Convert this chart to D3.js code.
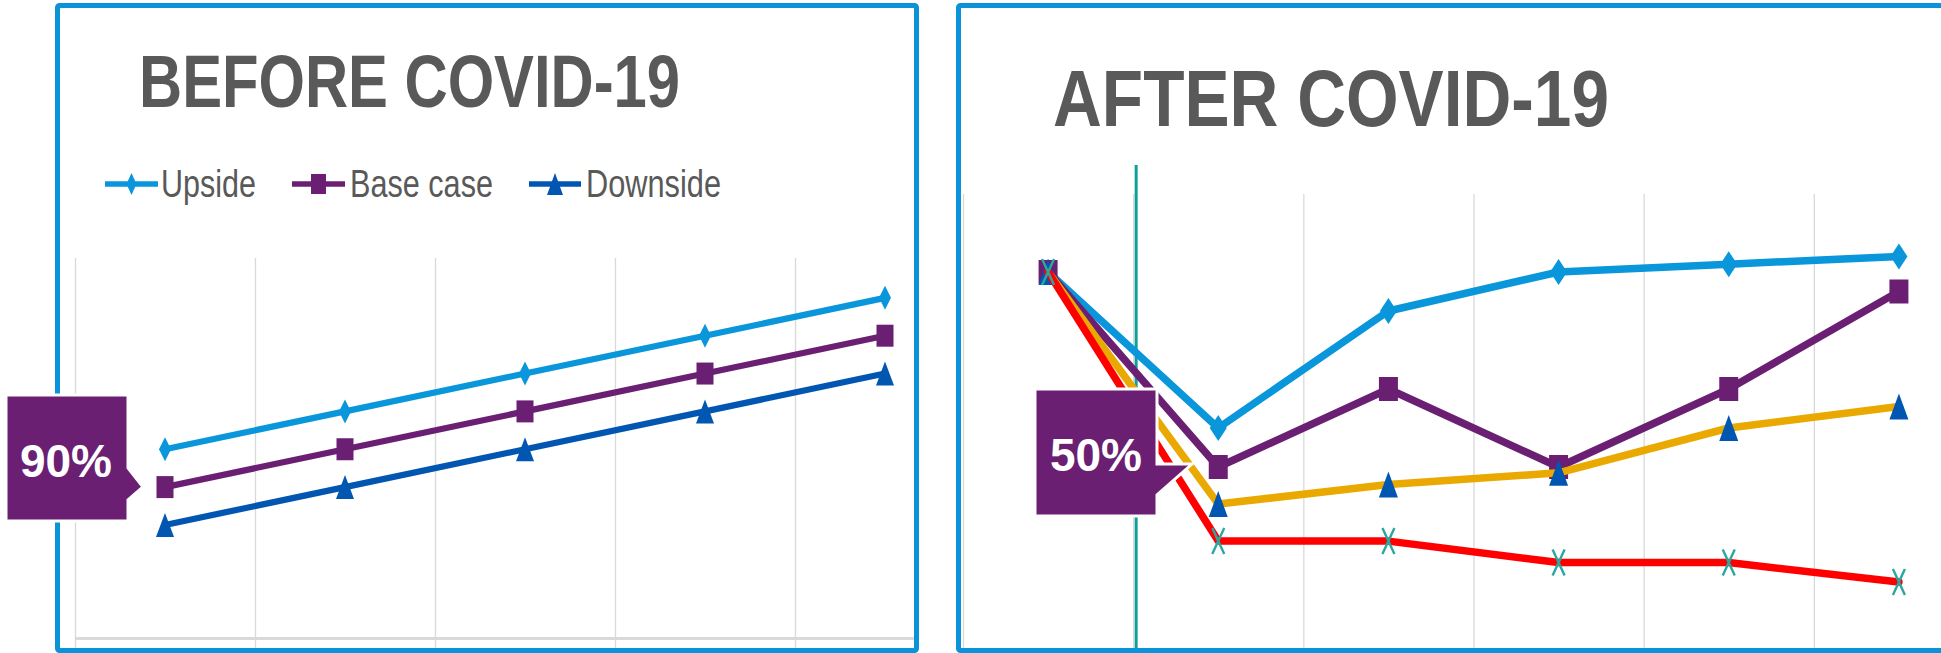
<!DOCTYPE html>
<html>
<head>
<meta charset="utf-8">
<script src="https://cdn.jsdelivr.net/npm/d3@7/dist/d3.min.js"></script>
<style>
  html, body { margin: 0; padding: 0; background: #ffffff; }
  svg { display: block; }
</style>
</head>
<body>
<svg id="chart" width="1941" height="653"></svg>
<script>
// ---------------- DATA ----------------
const titles = ["BEFORE COVID-19", "AFTER COVID-19"];
const legendLabels = ["Upside", "Base case", "Downside"];
const callouts = ["90%", "50%"];

const beforeCategories = ["P1", "P2", "P3", "P4", "P5"];
const beforeUpside   = [5, 6, 7, 8, 9];
const beforeBase     = [4, 5, 6, 7, 8];
const beforeDownside = [3, 4, 5, 6, 7];

const afterCategories = ["P0", "P1", "P2", "P3", "P4", "P5"];
const afterUpside   = [10, 6, 9, 10, 10.2, 10.4];
const afterBase     = [10, 5, 7, 5, 7, 9.5];
const afterDownside = [10, 4.05, 4.55, 4.85, 6, 6.55];
const afterSevere   = [10, 3.1, 3.1, 2.55, 2.55, 2.05];

// ---------------- STYLE ----------------
const C = {
  border: "#0a93d8",
  upside: "#0a96da",
  purple: "#6a1f73",
  downBlue: "#0056b1",
  yellow: "#e9a900",
  red: "#ff0000",
  tealX: "#2aa7a0",
  tealLine: "#10a09b",
  grid: "#d9d9d9",
  title: "#595959"
};

const svg = d3.select("#chart");
const defs = svg.append("defs");

function markerPath(type, w, h) {
  const p = d3.path();
  if (type === "diamond") {
    p.moveTo(0, -h / 2); p.lineTo(w / 2, 0); p.lineTo(0, h / 2); p.lineTo(-w / 2, 0); p.closePath();
  } else if (type === "square") {
    p.rect(-w / 2, -h / 2, w, h);
  } else if (type === "triangle") {
    p.moveTo(0, -h / 2); p.lineTo(w / 2, h / 2); p.lineTo(-w / 2, h / 2); p.closePath();
  } else if (type === "x") {
    p.moveTo(-w / 2, -h / 2); p.lineTo(w / 2, h / 2);
    p.moveTo(w / 2, -h / 2); p.lineTo(-w / 2, h / 2);
  }
  return p.toString();
}

function drawMarker(g, type, x, y, w, h, color) {
  const m = g.append("path")
    .attr("d", markerPath(type, w, h))
    .attr("transform", `translate(${x},${y})`);
  if (type === "x") {
    m.attr("fill", "none").attr("stroke", color).attr("stroke-width", 2.4);
  } else {
    m.attr("fill", color);
  }
}

// ================= LEFT PANEL =================
defs.append("clipPath").attr("id", "clipL")
  .append("rect").attr("x", 60).attr("y", 8).attr("width", 854).attr("height", 640);

const left = svg.append("g");
const xL = d3.scaleBand().domain(beforeCategories).range([75, 975]).padding(0);
const yL = d3.scaleLinear().domain([0, 10]).range([638.5, 260]);

const plotL = left.append("g").attr("clip-path", "url(#clipL)");
plotL.selectAll("line.grid").data(beforeCategories).join("line")
  .attr("x1", d => xL(d) + 0.5).attr("x2", d => xL(d) + 0.5)
  .attr("y1", 258).attr("y2", 653)
  .attr("stroke", C.grid).attr("stroke-width", 1.3);
plotL.append("line")
  .attr("x1", xL.range()[0]).attr("x2", xL.range()[1])
  .attr("y1", yL(0)).attr("y2", yL(0))
  .attr("stroke", C.grid).attr("stroke-width", 3);

const leftSeries = [
  { values: beforeUpside, color: C.upside, marker: "diamond", mw: 12, mh: 24, mc: C.upside },
  { values: beforeBase, color: C.purple, marker: "square", mw: 17, mh: 22, mc: C.purple },
  { values: beforeDownside, color: C.downBlue, marker: "triangle", mw: 18, mh: 24, mc: C.downBlue }
];
const lineL = d3.line()
  .x((d, i) => xL(beforeCategories[i]) + xL.bandwidth() / 2)
  .y(d => yL(d));
leftSeries.forEach(s => {
  plotL.append("path").datum(s.values)
    .attr("d", lineL).attr("fill", "none")
    .attr("stroke", s.color).attr("stroke-width", 6.2)
    .attr("stroke-linejoin", "round").attr("stroke-linecap", "round");
  s.values.forEach((v, i) => {
    drawMarker(plotL, s.marker, xL(beforeCategories[i]) + xL.bandwidth() / 2, yL(v), s.mw, s.mh, s.mc);
  });
});

left.append("rect")
  .attr("x", 57.5).attr("y", 5.5).attr("width", 859).attr("height", 645)
  .attr("fill", "none").attr("stroke", C.border).attr("stroke-width", 5).attr("rx", 2);

left.append("text")
  .attr("x", 139).attr("y", 107)
  .attr("font-family", "'Liberation Sans', Arial, sans-serif")
  .attr("font-weight", "bold").attr("font-size", 74)
  .attr("fill", C.title)
  .attr("textLength", 541).attr("lengthAdjust", "spacingAndGlyphs")
  .text(titles[0]);

const legendPos = [
  { x0: 105, x1: 158, tx: 161, tw: 95 },
  { x0: 292, x1: 345, tx: 350, tw: 143 },
  { x0: 529, x1: 581, tx: 586, tw: 135 }
];
const legendY = 184;
leftSeries.forEach((s, i) => {
  const p = legendPos[i];
  left.append("line")
    .attr("x1", p.x0).attr("x2", p.x1).attr("y1", legendY).attr("y2", legendY)
    .attr("stroke", s.color).attr("stroke-width", 5.5);
  drawMarker(left, s.marker, (p.x0 + p.x1) / 2, legendY, s.mw - 2, s.mh - 2, s.mc);
  left.append("text")
    .attr("x", p.tx).attr("y", 197)
    .attr("font-family", "'Liberation Sans', Arial, sans-serif")
    .attr("font-size", 38).attr("fill", C.title)
    .attr("textLength", p.tw).attr("lengthAdjust", "spacingAndGlyphs")
    .text(legendLabels[i]);
});

// ================= RIGHT PANEL =================
defs.append("clipPath").attr("id", "clipR")
  .append("rect").attr("x", 961).attr("y", 8).attr("width", 1000).attr("height", 640);

const right = svg.append("g");
const xR = d3.scaleBand().domain(afterCategories).range([963, 1984]).padding(0);
const yR = d3.scaleLinear().domain([0, 12]).range([662, 194]);

const plotR = right.append("g").attr("clip-path", "url(#clipR)");
plotR.selectAll("line.grid").data(afterCategories).join("line")
  .attr("x1", d => xR(d) + 0.5).attr("x2", d => xR(d) + 0.5)
  .attr("y1", 194).attr("y2", 653)
  .attr("stroke", C.grid).attr("stroke-width", 1.3);

plotR.append("line")
  .attr("x1", xR(afterCategories[1]) + 3).attr("x2", xR(afterCategories[1]) + 3)
  .attr("y1", 165).attr("y2", 653)
  .attr("stroke", C.tealLine).attr("stroke-width", 3);

const rightSeries = [
  { values: afterUpside, color: C.upside, marker: "diamond", mw: 17, mh: 26, mc: C.upside },
  { values: afterBase, color: C.purple, marker: "square", mw: 19, mh: 24, mc: C.purple },
  { values: afterDownside, color: C.yellow, marker: "triangle", mw: 19, mh: 26, mc: C.downBlue },
  { values: afterSevere, color: C.red, marker: "x", mw: 12, mh: 26, mc: C.tealX }
];
const lineR = d3.line()
  .x((d, i) => xR(afterCategories[i]) + xR.bandwidth() / 2)
  .y(d => yR(d));
rightSeries.forEach(s => {
  plotR.append("path").datum(s.values)
    .attr("d", lineR).attr("fill", "none")
    .attr("stroke", s.color).attr("stroke-width", 7.5)
    .attr("stroke-linejoin", "round").attr("stroke-linecap", "round");
  s.values.forEach((v, i) => {
    drawMarker(plotR, s.marker, xR(afterCategories[i]) + xR.bandwidth() / 2, yR(v), s.mw, s.mh, s.mc);
  });
});

right.append("rect")
  .attr("x", 958.5).attr("y", 5.5).attr("width", 1100).attr("height", 645)
  .attr("fill", "none").attr("stroke", C.border).attr("stroke-width", 5).attr("rx", 2);

right.append("text")
  .attr("x", 1053).attr("y", 126)
  .attr("font-family", "'Liberation Sans', Arial, sans-serif")
  .attr("font-weight", "bold").attr("font-size", 80)
  .attr("fill", C.title)
  .attr("textLength", 556).attr("lengthAdjust", "spacingAndGlyphs")
  .text(titles[1]);

// ================= CALLOUTS =================
function callout(box, pointer, label, tx, ty) {
  const p = d3.path();
  p.moveTo(box.x0, box.y0);
  p.lineTo(box.x1, box.y0);
  p.lineTo(pointer[0][0], pointer[0][1]);
  p.lineTo(pointer[1][0], pointer[1][1]);
  p.lineTo(pointer[2][0], pointer[2][1]);
  p.lineTo(box.x1, box.y1);
  p.lineTo(box.x0, box.y1);
  p.closePath();
  svg.append("path").attr("d", p.toString())
    .attr("fill", C.purple).attr("stroke", "#ffffff").attr("stroke-width", 3)
    .attr("stroke-linejoin", "miter");
  svg.append("text")
    .attr("x", tx).attr("y", ty).attr("text-anchor", "middle")
    .attr("font-family", "'Liberation Sans', Arial, sans-serif")
    .attr("font-weight", "bold").attr("font-size", 46)
    .attr("fill", "#ffffff")
    .text(label);
}
callout({ x0: 6, y0: 395, x1: 128, y1: 521 },
        [[128, 468], [143, 487], [128, 500]], callouts[0], 66, 477);
callout({ x0: 1035, y0: 389, x1: 1157, y1: 516 },
        [[1157, 464], [1192, 464], [1157, 495]], callouts[1], 1096, 471);
</script>
</body>
</html>
